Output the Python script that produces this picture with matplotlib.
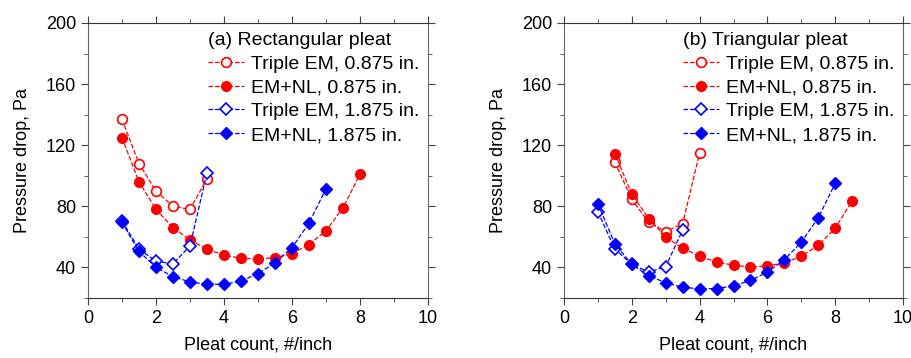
import numpy as np
import matplotlib.pyplot as plt
from matplotlib.ticker import MultipleLocator

plt.rcParams['font.family'] = ['Liberation Sans', 'DejaVu Sans']

# (a) Rectangular pleat
a_x_tem1 = [1, 1.5, 2, 2.5, 3, 3.5]
a_tem1 = [137, 108, 90, 80, 78, 98]
a_x_nl1 = [1, 1.5, 2, 2.5, 3, 3.5, 4, 4.5, 5, 5.5, 6, 6.5, 7, 7.5, 8]
a_nl1 = [125, 96, 78, 66, 58, 52, 48, 46, 45.5, 46.5, 49, 55, 64, 79, 101]
a_x_tem2 = [1, 1.5, 2, 2.5, 3, 3.5]
a_tem2 = [70.5, 52, 44, 42.5, 54, 102]
a_x_nl2 = [1, 1.5, 2, 2.5, 3, 3.5, 4, 4.5, 5, 5.5, 6, 6.5, 7]
a_nl2 = [69.5, 50.5, 40, 34, 30.5, 29, 29, 31, 36, 43, 53, 69, 91.5]

# (b) Triangular pleat
b_x_tem1 = [1.5, 2, 2.5, 3, 3.5, 4]
b_tem1 = [109, 84.5, 69.5, 63.5, 68.5, 115]
b_x_nl1 = [1.5, 2, 2.5, 3, 3.5, 4, 4.5, 5, 5.5, 6, 6.5, 7, 7.5, 8, 8.5]
b_nl1 = [114.5, 88, 72, 60, 52.5, 47.5, 43.5, 41.5, 40.3, 41, 43, 47.3, 54.5, 65.7, 83.5]
b_x_tem2 = [1, 1.5, 2, 2.5, 3, 3.5]
b_tem2 = [76.5, 52, 42, 37, 40.5, 64.5]
b_x_nl2 = [1, 1.5, 2, 2.5, 3, 3.5, 4, 4.5, 5, 5.5, 6, 6.5, 7, 7.5, 8]
b_nl2 = [81.5, 55.5, 42, 34.5, 30, 27, 26, 26.2, 28, 31.5, 37, 45, 56.5, 72.5, 95]

labels = ['Triple EM, 0.875 in.', 'EM+NL, 0.875 in.',
          'Triple EM, 1.875 in.', 'EM+NL, 1.875 in.']

fig = plt.figure(figsize=(9.12, 3.58), dpi=100)
W, H = 912, 358
ax1 = fig.add_axes([88 / W, 1 - 298 / H, 340 / W, 275 / H])
ax2 = fig.add_axes([564 / W, 1 - 298 / H, 339 / W, 275 / H])

panels = [
    (ax1, '(a) Rectangular pleat', a_x_tem1, a_tem1, a_x_nl1, a_nl1, a_x_tem2, a_tem2, a_x_nl2, a_nl2),
    (ax2, '(b) Triangular pleat', b_x_tem1, b_tem1, b_x_nl1, b_nl1, b_x_tem2, b_tem2, b_x_nl2, b_nl2),
]

for ax, title, x1, y1, x2, y2, x3, y3, x4, y4 in panels:
    ax.plot(x1, y1, '--', color='red', lw=0.9, marker='o', ms=7,
            mfc='white', mec='red', mew=1.2, label=labels[0])
    ax.plot(x2, y2, '--', color='red', lw=0.9, marker='o', ms=7,
            mfc='red', mec='red', label=labels[1])
    ax.plot(x3, y3, '--', color='blue', lw=0.9, marker='D', ms=6,
            mfc='white', mec='blue', mew=1.2, label=labels[2])
    ax.plot(x4, y4, '--', color='blue', lw=0.9, marker='D', ms=6,
            mfc='blue', mec='blue', label=labels[3])

    ax.set_xlim(0, 10)
    ax.set_ylim(20, 200)
    ax.xaxis.set_major_locator(MultipleLocator(2))
    ax.xaxis.set_minor_locator(MultipleLocator(1))
    ax.yaxis.set_minor_locator(MultipleLocator(20))
    ax.set_yticks([40, 80, 120, 160, 200])
    ax.tick_params(which='both', direction='out', top=True, right=True,
                   labelsize=13, color='#444444')
    ax.tick_params(which='major', length=5)
    ax.tick_params(which='minor', length=3)
    for side in ['left', 'right']:
        ax.spines[side].set_color('#666666')
    for side in ['top', 'bottom']:
        ax.spines[side].set_color('#333333')
    ax.set_xlabel('Pleat count, #/inch', fontsize=13, labelpad=7)
    ax.set_ylabel('Pressure drop, Pa', fontsize=13, labelpad=11)

    leg = ax.legend(loc='upper right', frameon=False, fontsize=14, title=title,
                    title_fontsize=14, handlelength=1.85, borderaxespad=0.25,
                    borderpad=0.2, labelspacing=0.32, handletextpad=0.35)
    leg._legend_box.align = 'left'

fig.savefig('out.png', dpi=100)
